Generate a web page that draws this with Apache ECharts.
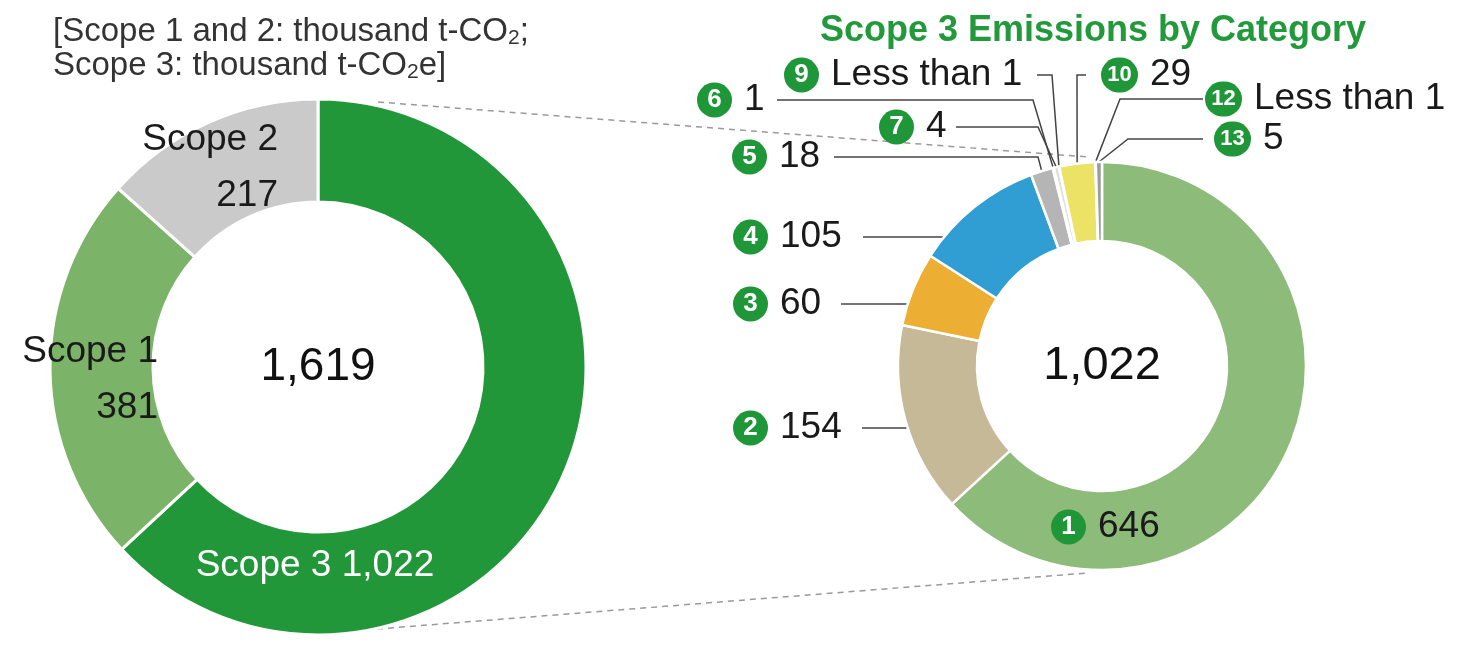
<!DOCTYPE html>
<html>
<head>
<meta charset="utf-8">
<script src="https://cdn.jsdelivr.net/npm/echarts@6/dist/echarts.min.js"></script>
<style>
  html, body { margin: 0; padding: 0; background: #fff; }
  #main { width: 1474px; height: 659px; }
</style>
</head>
<body>
<div id="main"></div>
<script>
// data
var scopeNames = ['Scope 3', 'Scope 1', 'Scope 2'];
var scopeValues = [1022, 381, 217];
var scopeTotal = '1,619';

var catNumbers = ['1', '2', '3', '4', '5', '6', '7', '9', '10', '12', '13'];
var catValues = [646, 154, 60, 105, 18, 1, 4, 0.4, 29, 0.4, 5];   // "Less than 1" drawn as 0.4
var catTexts = ['646', '154', '60', '105', '18', '1', '4', 'Less than 1', '29', 'Less than 1', '5'];
var catTotal = '1,022';

// styles
var FONT = '"Liberation Sans", Arial, Helvetica, sans-serif';
var GREEN = '#1f9638';
var scopeColors = ['#22973a', '#7bb368', '#cacaca'];
var catColors = ['#8dbb7a', '#c6b998', '#edaf33', '#309dd3', '#b5b5b5', '#d6d6d6',
                 '#dedede', '#e6e6e6', '#ebe266', '#cfcfcf', '#9c9c9c'];

// layout
var LC = [318, 367], LR = [165, 268];
var RC = [1102, 366], RR = [125, 204];

// left labels: x, y, align
var scopeLabelPos = [[315, 566, 'center'], [158, 380, 'right'], [278, 168, 'right']];
// right labels: anchor x, y (left edge of the numbered circle)
var catLabelPos = [[1051, 527], [733, 428], [733, 304], [733, 237], [732, 157], [697, 100],
                   [879, 127], [784, 75], [1101, 75], [1205, 99], [1214, 139]];
// leader lines: [end x near label, elbow x] (elbow null = straight to the ring)
var catLine = [null, [862, null], [841, null], [863, null], [834, 1038], [777, 1033],
               [956, 1038], [1037, 1052], [1086, 1077], [1203, 1120], [1203, 1128]];

function fmt(v) { return v.toLocaleString('en-US'); }

var scopeData = [];
for (var i = 0; i < scopeNames.length; i++) {
  scopeData.push({
    name: scopeNames[i],
    value: scopeValues[i],
    itemStyle: { color: scopeColors[i] }
  });
}

var catData = [];
for (var j = 0; j < catNumbers.length; j++) {
  catData.push({
    name: catNumbers[j],
    value: catValues[j],
    itemStyle: { color: catColors[j] },
    labelLine: { show: j !== 0 }
  });
}

var myChart = echarts.init(document.getElementById('main'));
var option = {
  animation: false,
  textStyle: { fontFamily: FONT },
  graphic: [
    {
      type: 'text', x: 1093, y: 31, z: 10,
      style: {
        text: 'Scope 3 Emissions by Category', fill: '#22993b',
        font: 'bold 36px ' + FONT, align: 'center', verticalAlign: 'middle'
      }
    },
    {
      type: 'text', x: 53, y: 15, z: 10,
      style: {
        text: '{m|[Scope 1 and 2: thousand t-CO}{s|2}{m|;}\n{m|Scope 3: thousand t-CO}{s|2}{m|e]}',
        fill: '#333', align: 'left', verticalAlign: 'top',
        rich: {
          m: { fontFamily: FONT, fontSize: 33, lineHeight: 34, fill: '#333', color: '#333' },
          s: { fontFamily: FONT, fontSize: 21, lineHeight: 21, verticalAlign: 'bottom', fill: '#333', color: '#333' }
        }
      }
    },
    {
      type: 'text', x: LC[0], y: LC[1], z: 10,
      style: { text: scopeTotal, fill: '#111', font: '46px ' + FONT, align: 'center', verticalAlign: 'middle' }
    },
    {
      type: 'text', x: RC[0], y: RC[1], z: 10,
      style: { text: catTotal, fill: '#111', font: '47px ' + FONT, align: 'center', verticalAlign: 'middle' }
    },
    {
      type: 'line', z: -1,
      shape: { x1: 378, y1: 102, x2: 1088, y2: 157 },
      style: { stroke: '#9a9a9a', lineWidth: 1.5, lineDash: [6, 5] }
    },
    {
      type: 'line', z: -1,
      shape: { x1: 377, y1: 629, x2: 1087, y2: 573 },
      style: { stroke: '#9a9a9a', lineWidth: 1.5, lineDash: [6, 5] }
    }
  ],
  series: [
    {
      name: 'Scope',
      type: 'pie',
      center: LC,
      radius: LR,
      startAngle: 90,
      clockwise: true,
      avoidLabelOverlap: false,
      emphasis: { disabled: true },
      itemStyle: { borderColor: '#fff', borderWidth: 3 },
      label: {
        show: true,
        position: 'inside',
        formatter: function (p) {
          if (p.dataIndex === 0) return '{w|' + p.name + ' ' + fmt(p.value) + '}';
          return '{a|' + p.name + '}\n{a|' + fmt(p.value) + '}';
        },
        rich: {
          a: { fontSize: 37, lineHeight: 56, color: '#1a1a1a', fontFamily: FONT },
          w: { fontSize: 37, color: '#fff', fontFamily: FONT }
        }
      },
      labelLine: { show: false },
      labelLayout: function (params) {
        var p = scopeLabelPos[params.dataIndex];
        return { x: p[0], y: p[1], align: p[2], verticalAlign: 'middle' };
      },
      data: scopeData
    },
    {
      name: 'Scope 3 by category',
      type: 'pie',
      center: RC,
      radius: RR,
      startAngle: 90,
      clockwise: true,
      avoidLabelOverlap: false,
      emphasis: { disabled: true },
      itemStyle: { borderColor: '#fff', borderWidth: 2.5 },
      label: {
        show: true,
        position: 'outside',
        formatter: function (p) {
          var n = p.name.length > 1 ? 'nn' : 'n';
          return '{' + n + '|' + p.name + '}{v|' + catTexts[p.dataIndex] + '}';
        },
        rich: {
          n: {
            width: 35, height: 35, lineHeight: 35, borderRadius: 17.5,
            backgroundColor: GREEN, color: '#fff', fontSize: 26, fontWeight: 'bold',
            align: 'center', fontFamily: FONT
          },
          nn: {
            width: 37, height: 35, lineHeight: 35, borderRadius: 17.5,
            backgroundColor: GREEN, color: '#fff', fontSize: 22, fontWeight: 'bold',
            align: 'center', fontFamily: FONT
          },
          v: { fontSize: 37, color: '#1a1a1a', padding: [0, 0, 0, 12], fontFamily: FONT }
        }
      },
      labelLine: { show: true, lineStyle: { color: '#444', width: 1.5 } },
      labelLayout: function (params) {
        var i = params.dataIndex;
        var pos = catLabelPos[i], ln = catLine[i];
        var out = { x: pos[0], y: pos[1], align: 'left', verticalAlign: 'middle' };
        if (ln) {
          var y = pos[1], pts;
          if (ln[1] == null) {
            var dy = y - RC[1];
            var ex = RC[0] - Math.sqrt(RR[1] * RR[1] - dy * dy);
            pts = [[ex, y], [(ex + ln[0]) / 2, y], [ln[0], y]];
          } else {
            var p0 = params.labelLinePoints ? params.labelLinePoints[0] : [RC[0], RC[1] - RR[1]];
            pts = [[p0[0], p0[1]], [ln[1], y], [ln[0], y]];
          }
          out.labelLinePoints = pts;
        }
        return out;
      },
      data: catData
    }
  ]
};
myChart.setOption(option);
</script>
</body>
</html>
